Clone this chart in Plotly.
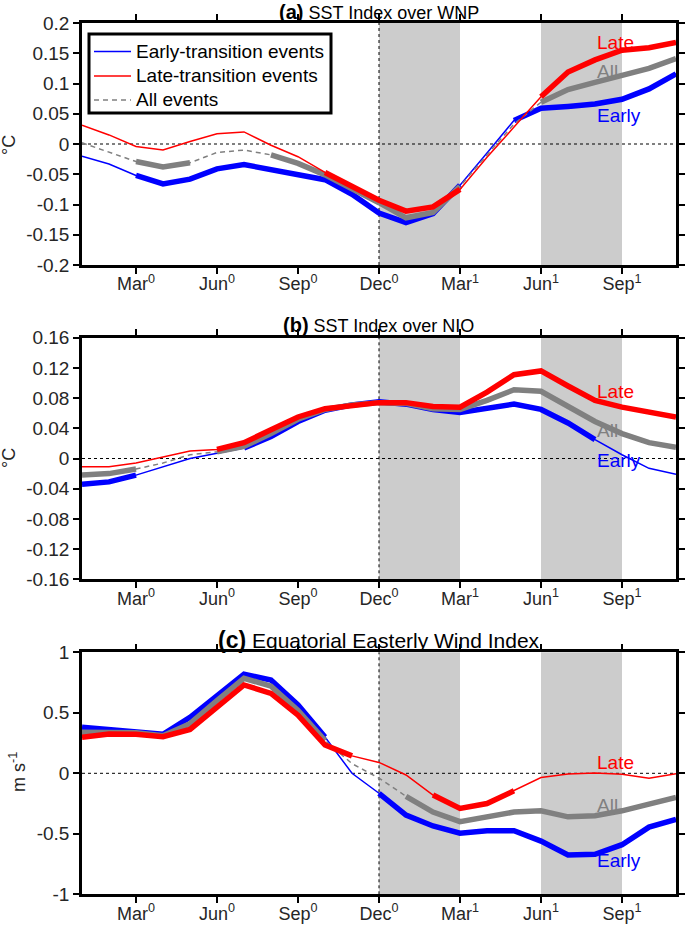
import plotly.graph_objects as go

# ---------------- data ----------------
months = list(range(23))  # Jan(0) ... Nov(1)
tick_pos = [2, 5, 8, 11, 14, 17, 20]
tick_labels = ["Mar<sup>0</sup>", "Jun<sup>0</sup>", "Sep<sup>0</sup>", "Dec<sup>0</sup>",
               "Mar<sup>1</sup>", "Jun<sup>1</sup>", "Sep<sup>1</sup>"]

# (a) SST index over WNP
early_a = [-0.020, -0.033, -0.052, -0.066, -0.058, -0.041, -0.034, -0.043, -0.051, -0.059, -0.083, -0.114,
           -0.130, -0.115, -0.068, -0.015, 0.039, 0.059, 0.062, 0.066, 0.074, 0.091, 0.116]
late_a = [0.031, 0.015, -0.004, -0.010, 0.004, 0.017, 0.020, -0.002, -0.021, -0.047, -0.070, -0.093,
          -0.111, -0.104, -0.075, -0.022, 0.028, 0.078, 0.119, 0.139, 0.155, 0.159, 0.168]
all_a = [0.002, -0.013, -0.029, -0.038, -0.031, -0.014, -0.010, -0.018, -0.032, -0.051, -0.073, -0.097,
         -0.122, -0.113, -0.070, -0.018, 0.033, 0.069, 0.090, 0.102, 0.114, 0.125, 0.141]
sig_early_a = [0, 0, 1, 1, 1, 1, 1, 1, 1, 1, 1, 1, 1, 1, 1, 0, 1, 1, 1, 1, 1, 1, 1]
sig_late_a = [0, 0, 0, 0, 0, 0, 0, 0, 0, 1, 1, 1, 1, 1, 1, 0, 0, 1, 1, 1, 1, 1, 1]
sig_all_a = [0, 0, 1, 1, 1, 0, 0, 1, 1, 1, 1, 1, 1, 1, 1, 0, 0, 1, 1, 1, 1, 1, 1]

# (b) SST index over NIO
early_b = [-0.034, -0.031, -0.022, -0.011, 0.000, 0.007, 0.014, 0.029, 0.049, 0.064, 0.071, 0.075,
           0.072, 0.065, 0.061, 0.066, 0.072, 0.065, 0.047, 0.025, 0.005, -0.013, -0.021]
late_b = [-0.011, -0.011, -0.006, 0.002, 0.010, 0.012, 0.021, 0.038, 0.055, 0.066, 0.070, 0.074,
          0.074, 0.069, 0.068, 0.088, 0.111, 0.116, 0.096, 0.077, 0.068, 0.062, 0.055]
all_b = [-0.022, -0.020, -0.014, -0.006, 0.005, 0.009, 0.016, 0.033, 0.052, 0.065, 0.071, 0.074,
         0.073, 0.066, 0.065, 0.077, 0.091, 0.089, 0.069, 0.049, 0.033, 0.021, 0.015]
sig_early_b = [1, 1, 1, 0, 0, 0, 1, 1, 1, 1, 1, 1, 1, 1, 1, 1, 1, 1, 1, 1, 0, 0, 0]
sig_late_b = [0, 0, 0, 0, 0, 1, 1, 1, 1, 1, 1, 1, 1, 1, 1, 1, 1, 1, 1, 1, 1, 1, 1]
sig_all_b = [1, 1, 1, 0, 0, 1, 1, 1, 1, 1, 1, 1, 1, 1, 1, 1, 1, 1, 1, 1, 1, 1, 1]

# (c) Equatorial easterly wind index
early_c = [0.380, 0.358, 0.344, 0.322, 0.463, 0.647, 0.818, 0.771, 0.565, 0.300, 0.000, -0.165,
           -0.345, -0.435, -0.495, -0.475, -0.475, -0.560, -0.675, -0.670, -0.590, -0.445, -0.380]
late_c = [0.297, 0.325, 0.322, 0.303, 0.363, 0.550, 0.730, 0.660, 0.480, 0.234, 0.144, 0.090,
          -0.014, -0.180, -0.290, -0.250, -0.145, -0.035, -0.005, 0.003, -0.008, -0.040, -0.003]
all_c = [0.339, 0.340, 0.335, 0.310, 0.410, 0.600, 0.785, 0.720, 0.520, 0.270, 0.080, -0.040,
         -0.190, -0.320, -0.400, -0.365, -0.320, -0.310, -0.360, -0.350, -0.310, -0.255, -0.200]
sig_early_c = [1, 1, 1, 1, 1, 1, 1, 1, 1, 1, 0, 1, 1, 1, 1, 1, 1, 1, 1, 1, 1, 1, 1]
sig_late_c = [1, 1, 1, 1, 1, 1, 1, 1, 1, 1, 1, 0, 0, 1, 1, 1, 1, 0, 0, 0, 0, 0, 0]
sig_all_c = [1, 1, 1, 1, 1, 1, 1, 1, 1, 1, 0, 0, 1, 1, 1, 1, 1, 1, 1, 1, 1, 1, 1]

ytick_a = [-0.2, -0.15, -0.1, -0.05, 0, 0.05, 0.1, 0.15, 0.2]
ytick_a_txt = ["-0.2", "-0.15", "-0.1", "-0.05", "0", "0.05", "0.1", "0.15", "0.2"]
ytick_b = [-0.16, -0.12, -0.08, -0.04, 0, 0.04, 0.08, 0.12, 0.16]
ytick_b_txt = ["-0.16", "-0.12", "-0.08", "-0.04", "0", "0.04", "0.08", "0.12", "0.16"]
ytick_c = [-1, -0.5, 0, 0.5, 1]
ytick_c_txt = ["-1", "-0.5", "0", "0.5", "1"]

legend_names = ["Early-transition events", "Late-transition events", "All events"]

# ---------------- style ----------------
BLUE, RED, GREY = "#0000FF", "#FF0000", "#808080"
FONT = "Liberation Sans"
W, H = 685, 932
XL, XR = 82, 676
panels = [  # (top px, bottom px)
    (23, 265),
    (337.7, 579.3),
    (652.3, 894.3),
]

fig = go.Figure()


def masked(vals, sig):
    return [v if s else None for v, s in zip(vals, sig)]


def add_panel(k, early, late, allv, se, sl, sa):
    xa = "x" if k == 1 else f"x{k}"
    ya = "y" if k == 1 else f"y{k}"
    series = [
        (early, se, BLUE, "solid"),
        (allv, sa, GREY, "5px,4px"),
        (late, sl, RED, "solid"),
    ]
    for vals, sig, col, dash in series:
        fig.add_trace(go.Scatter(
            x=months, y=vals, mode="lines", xaxis=xa, yaxis=ya,
            line=dict(color=col, width=1.5, dash=dash),
            showlegend=False, hoverinfo="skip"))
        fig.add_trace(go.Scatter(
            x=months, y=masked(vals, sig), mode="lines", xaxis=xa, yaxis=ya,
            line=dict(color=col, width=5.5), connectgaps=False,
            showlegend=False, hoverinfo="skip"))


add_panel(1, early_a, late_a, all_a, sig_early_a, sig_late_a, sig_all_a)
add_panel(2, early_b, late_b, all_b, sig_early_b, sig_late_b, sig_all_b)
add_panel(3, early_c, late_c, all_c, sig_early_c, sig_late_c, sig_all_c)

axis_common = dict(showline=True, linewidth=2.5, linecolor="black", mirror="ticks",
                   ticks="outside", ticklen=6, tickwidth=2, tickcolor="black",
                   showgrid=False, zeroline=False, automargin=False, fixedrange=True)

yticks = [(ytick_a, ytick_a_txt, [-0.2, 0.2]),
          (ytick_b, ytick_b_txt, [-0.16, 0.16]),
          (ytick_c, ytick_c_txt, [-1, 1])]

layout_axes = {}
for k, ((top, bot), (tv, tt, rng)) in enumerate(zip(panels, yticks), start=1):
    sfx = "" if k == 1 else str(k)
    layout_axes[f"xaxis{sfx}"] = dict(
        domain=[XL / W, XR / W], range=[0, 22], tickvals=tick_pos, ticktext=tick_labels,
        anchor=f"y{sfx}", tickfont=dict(size=18, family=FONT, color="#262626"),
        ticklabelstandoff=-5, **axis_common)
    layout_axes[f"yaxis{sfx}"] = dict(
        domain=[1 - bot / H, 1 - top / H], range=rng, tickvals=tv, ticktext=tt,
        anchor=f"x{sfx}", tickfont=dict(size=19, family=FONT, color="#262626"), **axis_common)

fig.update_layout(**layout_axes)

shapes = []
for k in (1, 2, 3):
    sfx = "" if k == 1 else str(k)
    xr, yr = f"x{sfx}", f"y{sfx}"
    for x0, x1 in [(11, 14), (17, 20)]:
        shapes.append(dict(type="rect", xref=xr, yref=f"{yr} domain", x0=x0, x1=x1, y0=0, y1=1,
                           fillcolor="#CCCCCC", line=dict(width=0), layer="below"))
    shapes.append(dict(type="line", xref=xr, yref=f"{yr} domain", x0=11, x1=11, y0=0, y1=1,
                       line=dict(color="black", width=1, dash="dot"), layer="below"))
    shapes.append(dict(type="line", xref=f"{xr} domain", yref=yr, x0=0, x1=1, y0=0, y1=0,
                       line=dict(color="black", width=1, dash="dot"), layer="below"))

# legend box (drawn manually, panel a)
LX0, LX1, LY0, LY1 = 89, 331, 34, 113
shapes.append(dict(type="rect", xref="paper", yref="paper", x0=LX0 / W, x1=LX1 / W,
                   y0=1 - LY1 / H, y1=1 - LY0 / H, fillcolor="white",
                   line=dict(color="black", width=3), layer="above"))
legend_rows = [(BLUE, "solid", 51.5), (RED, "solid", 76), (GREY, "5px,4px", 100)]
for (col, dash, ypx) in legend_rows:
    shapes.append(dict(type="line", xref="paper", yref="paper", x0=94 / W, x1=131 / W,
                       y0=1 - ypx / H, y1=1 - ypx / H, line=dict(color=col, width=1.5, dash=dash),
                       layer="above"))
fig.update_layout(shapes=shapes)

xc = (XL + XR) / 2 / W
annotations = []
for name, (col, dash, ypx) in zip(legend_names, legend_rows):
    annotations.append(dict(
        xref="paper", yref="paper", x=134 / W, y=1 - ypx / H, xanchor="left", yanchor="middle",
        text=name, showarrow=False, font=dict(size=19, family=FONT, color="black")))

titles = [("(a)", "SST Index over WNP", 12, 18),
          ("(b)", "SST Index over NIO", 325, 18),
          ("(c)", "Equatorial Easterly Wind Index", 640, 21)]
for lab, txt, ypx, fs in titles:
    annotations.append(dict(
        xref="paper", yref="paper", x=xc, y=1 - ypx / H, xanchor="center", yanchor="middle",
        text=f"<b><span style='font-size:{fs + 2}px'>{lab}</span></b> {txt}", showarrow=False,
        font=dict(size=fs, family=FONT, color="black")))

ylabels = [("°C", 145, 9), ("°C", 458, 9), ("m s<sup>-1</sup>", 772, 17)]
for txt, ypx, xpx in ylabels:
    annotations.append(dict(
        xref="paper", yref="paper", x=xpx / W, y=1 - ypx / H, xanchor="center", yanchor="middle",
        text=txt, textangle=-90, showarrow=False,
        font=dict(size=18, family=FONT, color="#262626")))

# curve labels (px positions: y centre)
curve_labels = [
    [("Late", RED, 43), ("All", GREY, 71), ("Early", BLUE, 115)],
    [("Late", RED, 391), ("All", GREY, 430), ("Early", BLUE, 460)],
    [("Late", RED, 762), ("All", GREY, 805), ("Early", BLUE, 860)],
]
for labs in curve_labels:
    for txt, col, ypx in labs:
        annotations.append(dict(
            xref="paper", yref="paper", x=595 / W, y=1 - ypx / H, xanchor="left", yanchor="middle",
            text=txt, showarrow=False, font=dict(size=19, family=FONT, color=col)))
fig.update_layout(annotations=annotations)

fig.update_layout(
    width=W, height=H, margin=dict(l=0, r=0, t=0, b=0),
    paper_bgcolor="white", plot_bgcolor="white",
    font=dict(family=FONT, color="black"),
    showlegend=False, hovermode=False,
)

fig.write_html("out.html", config={"displayModeBar": False},
               post_script="document.body.style.margin='0px';")
